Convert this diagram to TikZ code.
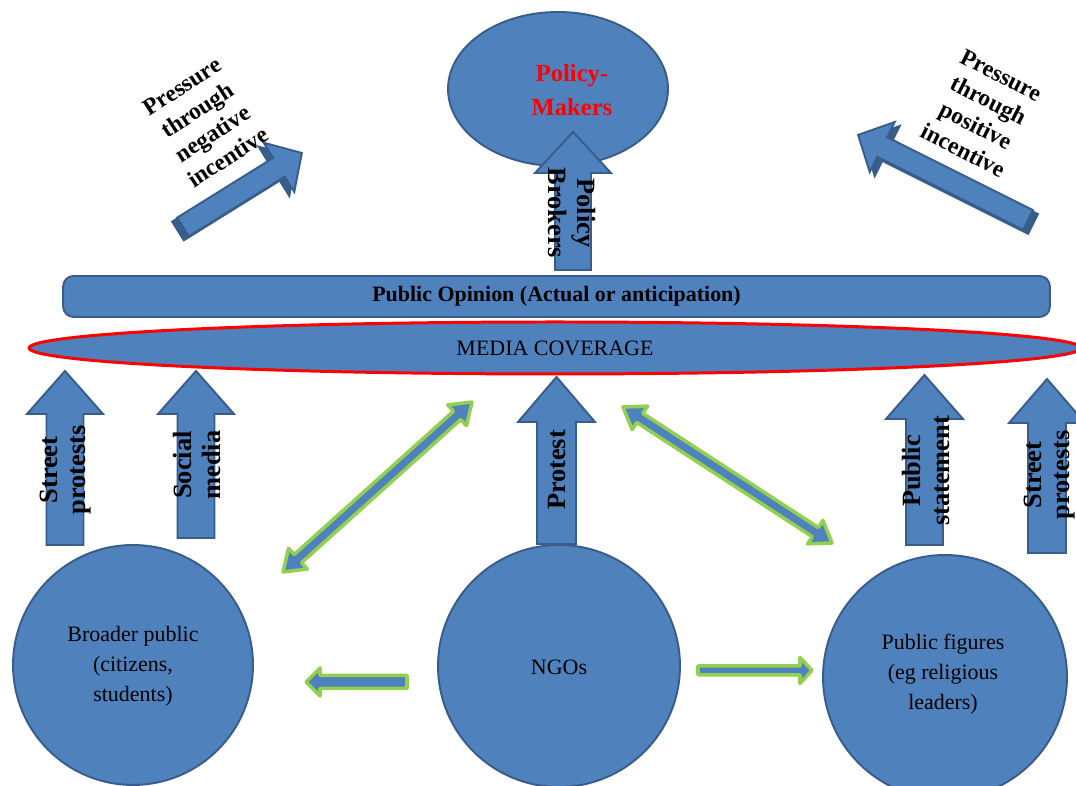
\documentclass[tikz,border=0pt]{standalone}
\usepackage{fontspec}
\setmainfont{Liberation Serif}
\usetikzlibrary{shapes.geometric}
\definecolor{ppblue}{RGB}{79,129,189}
\definecolor{ppedge}{RGB}{56,93,138}
\definecolor{ppgreen}{RGB}{146,208,80}

% upward block arrow: name, centre x, tip y, head base y, bottom y, head half width, shaft half width
\newcommand{\UpBlock}[7]{%
  \path[blk] ({#2-#7},#5) -- ({#2-#7},#4) -- ({#2-#6},#4) -- (#2,#3)
    -- ({#2+#6},#4) -- ({#2+#7},#4) -- ({#2+#7},#5) -- cycle;
  \coordinate (#1) at (#2,#3);}
% single arrow along +x: style, length, head length, head half width, shaft half width
\newcommand{\SingleArrow}[5]{%
  \path[#1] (0,-#5) -- ({#2-#3},-#5) -- ({#2-#3},-#4) -- (#2,0)
    -- ({#2-#3},#4) -- ({#2-#3},#5) -- (0,#5) -- cycle;}
% double arrow along +x: style, length, head length, head half width, shaft half width
\newcommand{\DoubleArrow}[5]{%
  \path[#1] (0,0) -- (#3,#4) -- (#3,#5) -- ({#2-#3},#5) -- ({#2-#3},#4) -- (#2,0)
    -- ({#2-#3},-#4) -- ({#2-#3},-#5) -- (#3,-#5) -- (#3,-#4) -- cycle;}

\begin{document}
\begin{tikzpicture}[x=0.02cm,y=0.02cm,
  blk/.style={fill=ppblue,draw=ppedge,line width=1.1pt},
  blkdark/.style={fill=ppedge,draw=ppedge,line width=1.1pt},
  dbl/.style={fill=ppblue,draw=ppgreen,line width=2pt,line join=round},
  circ/.style={circle,fill=ppblue,draw=ppedge,line width=1.1pt,inner sep=0pt},
  circtext/.style={align=center,font=\fontsize{12.5}{17}\selectfont},
  vlab/.style={align=center,font=\bfseries\fontsize{15}{16}\selectfont,inner sep=0pt},
  slant/.style={align=center,font=\bfseries\fontsize{13.5}{16}\selectfont,inner sep=0pt},
]
\useasboundingbox (0,0) rectangle (1076,786);
\fill[white] (0,0) rectangle (1076,786);
\begin{scope}
\clip (0,0) rectangle (1076,786);

% policy makers
\node[ellipse,fill=ppblue,draw=ppedge,line width=1.1pt,inner sep=0pt,
  minimum width=4.4cm,minimum height=3.08cm] (pm) at (558,697) {};
\node[align=center,text=red,font=\bfseries\fontsize{14}{19}\selectfont] (pmtext) at (572,696) {Policy-\\Makers};
\UpBlock{brokers}{573}{654}{613}{516}{38}{18}
\node[vlab,rotate=-90] (brokerstext) at (572,573) {Policy\\Brokers};

% pressure arrows with their extruded sides
\begin{scope}[shift={(178,555)},rotate=31.9]
  \SingleArrow{blkdark}{140}{27}{29}{11}
\end{scope}
\begin{scope}[shift={(183,559)},rotate=31.9]
  \SingleArrow{blk}{140}{27}{29}{11}
\end{scope}
\node[slant,rotate=33] (negtxt) at (205,664) {Pressure\\through\\negative\\incentive};

\begin{scope}[shift={(1033,562)},rotate=153.4]
  \SingleArrow{blkdark}{190}{27}{28}{11}
\end{scope}
\begin{scope}[shift={(1028,566)},rotate=153.4]
  \SingleArrow{blk}{190}{27}{28}{11}
\end{scope}
\node[slant,rotate=-27] (postxt) at (982,673) {Pressure\\through\\positive\\incentive};

% public opinion bar and media coverage
\node[rectangle,rounded corners=6pt,fill=ppblue,draw=ppedge,line width=1.1pt,
  minimum width=19.74cm,minimum height=0.82cm,inner sep=0pt,
  font=\bfseries\fontsize{12.5}{15}\selectfont] (opinion) at (556.5,489.5)
  {Public Opinion (Actual or anticipation)};
\node[ellipse,fill=ppblue,draw=red,line width=1.7pt,inner sep=0pt,
  minimum width=21.04cm,minimum height=1.04cm,
  font=\fontsize{12.5}{14}\selectfont] (media) at (555,438) {MEDIA COVERAGE};

% channels into the media
\UpBlock{streetL}{65}{415}{372}{241}{38}{18.5}
\UpBlock{social}{196}{415}{372}{248}{38}{18.5}
\UpBlock{protest}{556.5}{409}{364}{242}{38.5}{19.5}
\UpBlock{statement}{924.5}{411}{367}{241}{38.5}{18.5}
\UpBlock{streetR}{1047}{407}{363}{233}{38}{19}
\node[vlab,rotate=90] (streetLtext) at (66,316) {Street\\protests};
\node[vlab,rotate=90] (socialtext) at (197,321) {Social\\media};
\node[vlab,rotate=90] (protesttext) at (557,316) {Protest};
\node[vlab,rotate=90] (statementtext) at (926,315) {Public\\statement};
\node[vlab,rotate=90] (streetRtext) at (1050,311) {Street\\protests};

% actors
\node[circ,minimum size=4.8cm] (public) at (133,121) {};
\node[circtext] (publictext) at (133,119.5) {Broader public\\(citizens,\\students)};
\node[circ,minimum size=4.84cm] (ngo) at (559,120) {};
\node[circtext] (ngotext) at (559,119) {NGOs};
\node[circ,minimum size=4.88cm] (figures) at (945,109) {};
\node[circtext] (figurestext) at (943,112) {Public figures\\(eg religious\\leaders)};

% two-way links with the media
\coordinate (dl1) at (283,214);
\coordinate (dl2) at (472,384);
\begin{scope}[shift={(dl1)},rotate=41.97]
  \DoubleArrow{dbl}{254.2}{20}{14}{5.5}
\end{scope}
\coordinate (dr1) at (623,379);
\coordinate (dr2) at (832,243);
\begin{scope}[shift={(dr1)},rotate=-33.05]
  \DoubleArrow{dbl}{249.4}{20}{14}{5.5}
\end{scope}

% NGOs reaching the other actors
\coordinate (ngoL) at (407,104);
\begin{scope}[shift={(ngoL)},rotate=180]
  \SingleArrow{dbl}{101}{14}{14}{6.5}
\end{scope}
\coordinate (ngoR) at (698,115.5);
\begin{scope}[shift={(ngoR)}]
  \SingleArrow{dbl}{114}{12}{13}{4.5}
\end{scope}
\end{scope}
\end{tikzpicture}
\end{document}
